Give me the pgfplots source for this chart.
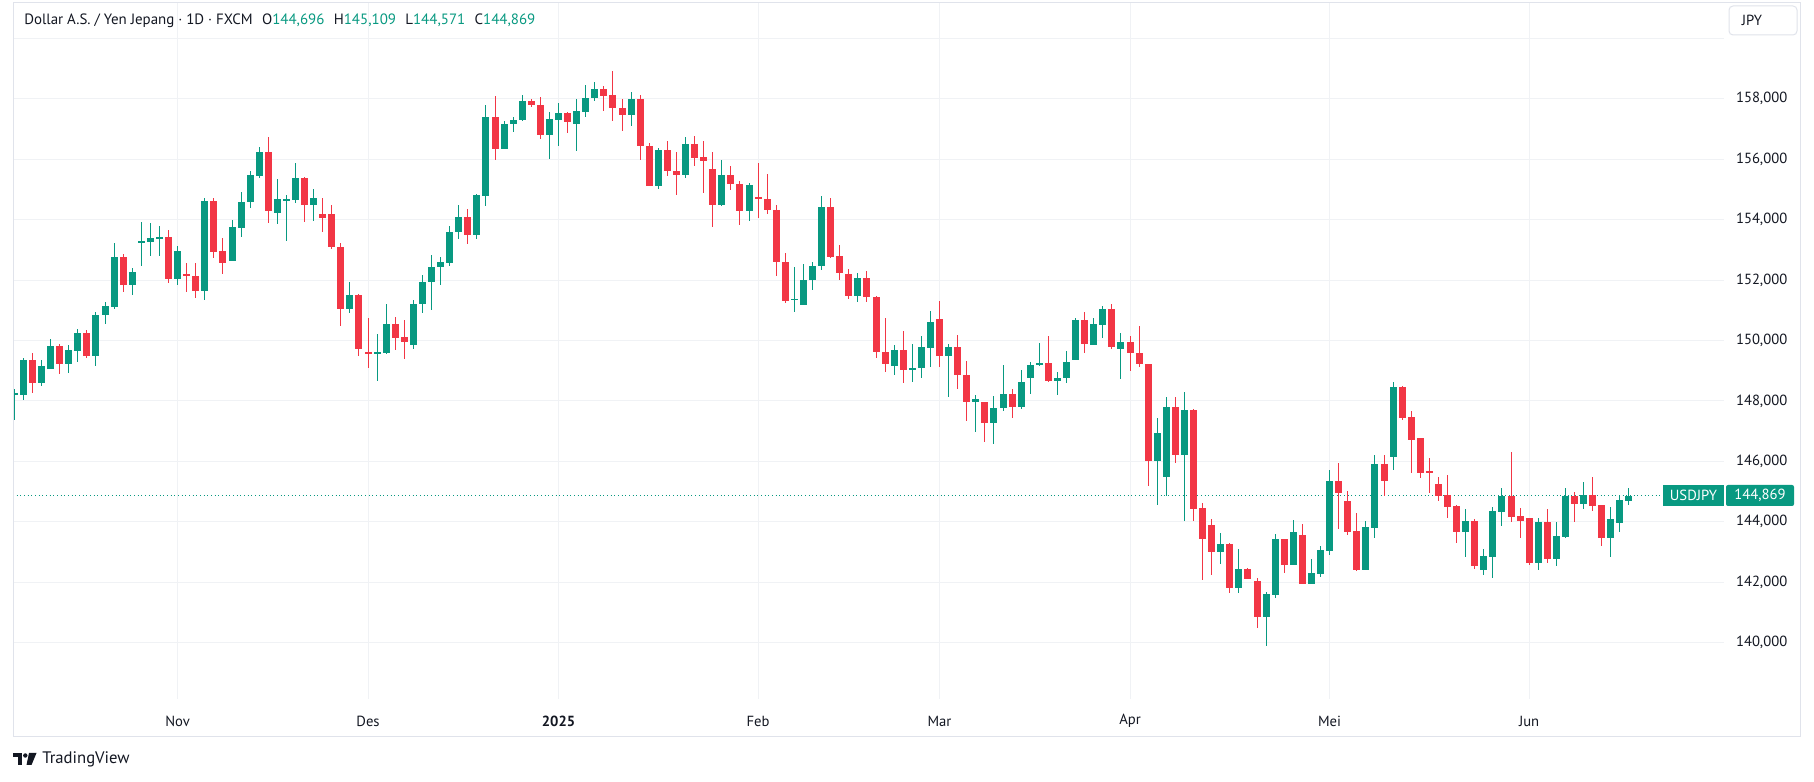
\documentclass[border=0pt]{standalone}
\usepackage{fontspec}
\setmainfont{PT Sans}
\usepackage{pgfplots}
\pgfplotsset{compat=1.18}
\usepackage{pgfplotstable}
\definecolor{tvgreen}{RGB}{8,153,129}
\definecolor{tvred}{RGB}{242,54,69}
\definecolor{textc}{RGB}{19,23,34}
\definecolor{gridc}{RGB}{240,242,245}
\definecolor{framec}{RGB}{224,227,235}

\pgfplotstableread{
i O H L C
1 148.21 148.38 147.36 148.25
2 148.19 149.42 148.04 149.36
4 148.61 149.36 148.48 149.16
5 149.07 150.04 149.05 149.81
7 149.22 149.85 148.93 149.68
8 149.66 150.37 149.30 150.24
10 149.49 150.94 149.17 150.86
11 150.84 151.26 150.55 151.13
12 151.10 153.22 151.03 152.77
14 151.83 152.40 151.50 152.27
15 153.24 153.91 152.45 153.29
16 153.27 153.88 152.81 153.39
17 153.37 153.80 152.81 153.43
19 152.05 153.13 151.83 152.96
22 151.63 154.71 151.33 154.63
25 152.64 153.98 152.64 153.75
26 153.73 154.93 153.43 154.60
27 154.58 155.62 154.38 155.49
28 155.46 156.40 155.37 156.24
30 154.23 155.36 153.86 154.67
31 154.65 154.80 153.30 154.67
32 154.65 155.88 154.55 155.39
34 154.50 155.02 153.97 154.72
38 151.03 151.95 150.90 151.52
41 149.58 150.23 148.65 149.60
42 149.58 151.22 149.55 150.56
45 149.84 151.35 149.71 151.22
46 151.20 152.18 150.90 151.95
47 151.93 152.84 151.00 152.44
48 152.42 152.77 151.83 152.61
49 152.57 153.80 152.45 153.60
50 153.58 154.49 153.35 154.09
52 153.48 154.85 153.35 154.82
53 154.80 157.80 154.44 157.40
55 156.35 157.27 156.35 157.17
56 157.15 157.40 156.91 157.30
57 157.30 158.11 157.28 157.93
60 156.81 157.56 156.02 157.33
61 157.30 157.86 156.45 157.53
63 157.16 157.98 156.27 157.58
64 157.56 158.44 157.39 158.04
65 158.02 158.57 157.92 158.34
69 157.46 158.21 157.09 157.98
72 155.10 156.38 155.00 156.29
75 155.47 156.72 155.37 156.52
79 154.48 155.99 154.44 155.49
82 154.28 155.23 153.94 155.16
87 151.35 152.44 150.93 151.37
88 151.19 152.54 151.19 152.01
89 151.99 152.61 151.66 152.48
90 152.45 154.80 152.35 154.43
94 151.46 152.24 151.26 152.08
98 149.15 149.86 148.85 149.70
100 149.02 149.90 148.62 149.10
101 149.08 150.16 148.75 149.80
102 149.76 150.99 149.11 150.62
104 149.48 149.90 148.12 149.80
107 147.96 148.21 146.97 148.05
109 147.26 148.15 146.57 147.78
110 147.76 149.20 147.66 148.24
112 147.79 149.04 147.73 148.64
113 148.75 149.30 148.22 149.20
114 149.18 149.93 149.15 149.27
116 148.65 148.97 148.19 148.77
117 148.75 149.67 148.59 149.30
118 149.35 150.76 149.35 150.69
120 149.86 150.76 149.84 150.56
121 150.52 151.15 150.07 151.05
123 149.71 150.26 148.72 149.96
127 146.01 147.45 144.56 146.93
128 145.50 148.14 144.86 147.81
130 146.20 148.28 144.03 147.71
134 143.00 143.62 142.60 143.26
136 141.81 143.09 141.64 142.43
139 140.85 141.67 139.89 141.61
140 141.58 143.59 141.48 143.42
142 142.57 144.05 142.57 143.65
144 141.94 142.76 141.94 142.30
145 142.27 143.19 142.17 143.06
146 143.03 145.73 142.90 145.34
150 142.40 144.02 142.40 143.82
151 143.79 146.20 143.46 145.90
153 146.13 148.64 145.70 148.47
161 143.67 144.42 142.85 144.03
163 142.42 143.11 142.25 142.87
164 142.85 144.49 142.15 144.36
165 144.34 145.12 143.87 144.85
169 142.65 144.13 142.42 143.99
171 142.78 143.99 142.55 143.53
172 143.51 145.12 143.48 144.85
174 144.60 145.32 144.42 144.89
177 143.48 144.49 142.82 144.09
178 143.97 144.89 143.67 144.72
179 144.696 145.109 144.571 144.869
}\greencandles

\pgfplotstableread{
i O H L C
3 149.36 149.60 148.26 148.61
6 149.81 149.88 148.90 149.22
9 150.24 150.34 149.43 149.49
13 152.77 152.86 151.60 151.83
18 153.42 153.65 151.89 152.05
20 152.21 152.57 151.60 152.12
21 152.14 152.57 151.40 151.63
23 154.63 154.73 152.74 152.94
24 152.96 153.39 152.19 152.58
29 156.24 156.73 153.89 154.30
33 155.38 155.40 153.91 154.50
35 154.19 154.72 153.58 154.07
36 154.19 154.49 153.02 153.08
37 153.10 153.24 150.47 151.03
39 151.52 151.55 149.48 149.71
40 149.60 150.76 149.08 149.58
43 150.56 150.79 149.68 150.07
44 150.10 150.69 149.38 149.94
51 154.09 154.36 153.18 153.48
54 157.40 158.08 155.96 156.35
58 157.93 157.98 157.74 157.78
59 157.78 158.07 156.68 156.81
62 157.53 157.56 156.88 157.24
66 158.34 158.41 157.59 158.09
67 158.11 158.91 157.25 157.69
68 157.71 157.98 156.93 157.46
70 157.98 158.11 155.97 156.43
71 156.45 156.55 155.10 155.10
73 156.29 156.59 155.44 155.60
74 155.62 156.25 154.81 155.47
76 156.52 156.78 155.77 156.03
77 156.06 156.59 154.87 155.93
78 155.69 156.25 153.75 154.48
80 155.49 155.79 154.97 155.17
81 155.19 155.27 153.81 154.28
83 154.76 155.89 154.04 154.67
84 154.70 155.52 154.18 154.31
85 154.33 154.48 152.12 152.59
86 152.61 152.91 151.25 151.31
91 154.43 154.70 152.72 152.78
92 152.81 153.17 152.02 152.25
93 152.21 152.38 151.36 151.46
95 152.08 152.31 151.26 151.43
96 151.45 151.47 149.41 149.61
97 149.62 150.74 148.95 149.21
99 149.70 150.33 148.59 149.02
103 150.72 151.32 149.11 149.48
105 149.80 150.19 148.39 148.85
106 148.87 149.33 147.33 147.96
108 147.95 147.95 146.64 147.26
111 148.24 148.38 147.43 147.79
115 149.27 150.16 148.62 148.65
119 150.69 150.95 149.58 149.87
122 151.05 151.22 149.71 149.80
124 149.96 150.16 148.98 149.58
125 149.60 150.49 149.11 149.21
126 149.23 149.24 145.18 146.01
129 147.81 148.14 145.96 146.20
131 147.71 147.72 144.03 144.41
132 144.45 144.61 142.07 143.42
133 143.89 144.08 142.24 143.00
135 143.26 143.29 141.64 141.81
137 142.43 142.47 142.10 142.10
138 142.04 142.14 140.49 140.85
141 143.42 143.43 142.30 142.57
143 143.56 143.92 141.94 141.94
147 145.34 145.93 143.75 144.94
148 144.68 145.01 143.56 143.65
149 143.69 144.28 142.37 142.40
152 145.90 146.20 144.86 145.34
154 148.47 148.48 147.38 147.45
155 147.48 147.68 145.60 146.72
156 146.76 146.77 145.44 145.63
157 145.67 146.10 144.94 145.65
158 145.24 145.47 144.68 144.85
159 144.88 145.54 144.12 144.48
160 144.52 144.56 143.31 143.67
162 144.03 144.09 142.45 142.55
166 144.85 146.31 144.00 144.17
167 144.19 144.46 143.48 144.04
168 144.13 144.14 142.58 142.65
170 143.99 144.42 142.65 142.78
173 144.85 144.99 144.00 144.60
175 144.89 145.48 144.37 144.53
176 144.56 144.57 143.21 143.48
}\redcandles

\begin{document}
\begin{tikzpicture}
\begin{scope}[x=0.75pt,y=0.75pt]
\path[use as bounding box, fill=white] (0,0) rectangle (1814,782);
\end{scope}
\begin{axis}[
  at={(9.75pt,62.25pt)}, anchor=south west,
  scale only axis, width=1283.25pt, height=522pt,
  xmin=0.857, xmax=189.48, ymin=138.136, ymax=161.17,
  axis line style={draw=none}, tick style={draw=none},
  xtick={19,40,61,83,103,124,146,168},
  xticklabels={Nov,Des,\textbf{2025},Feb,Mar,Apr,Mei,Jun},
  ytick={140,142,...,158},
  extra y ticks={160}, extra y tick labels={},
  extra y tick style={grid=major},
  yticklabel pos=right,
  xmajorgrids, ymajorgrids,
  grid style={gridc, line width=0.75pt},
  ticklabel style={font=\fontsize{11}{13}\selectfont, text=textc},
  xticklabel style={anchor=center, yshift=-16.5pt},
  yticklabel style={anchor=east, xshift=51pt},
  yticklabel={\pgfmathprintnumber[fixed,fixed zerofill,precision=3,use comma,assume math mode=true]{\tick}},
]
% dotted last-price line
\addplot[tvgreen, dotted, line width=0.75pt, forget plot] coordinates {(0.857,144.869) (182.7,144.869)};
% wicks
\addplot[draw=none, no marks, forget plot,
  error bars/.cd, y dir=both, y explicit, error mark=none,
  error bar style={draw=tvgreen, line width=0.75pt, solid}]
  table[x=i, y expr={(\thisrow{H}+\thisrow{L})/2}, y error expr={(\thisrow{H}-\thisrow{L})/2}] {\greencandles};
\addplot[draw=none, no marks, forget plot,
  error bars/.cd, y dir=both, y explicit, error mark=none,
  error bar style={draw=tvred, line width=0.75pt, solid}]
  table[x=i, y expr={(\thisrow{H}+\thisrow{L})/2}, y error expr={(\thisrow{H}-\thisrow{L})/2}] {\redcandles};
% bodies
\addplot[draw=none, no marks, forget plot,
  error bars/.cd, y dir=both, y explicit, error mark=none,
  error bar style={draw=tvgreen, line width=5.25pt, solid}]
  table[x=i, y expr={(\thisrow{O}+\thisrow{C})/2}, y error expr={max(abs(\thisrow{C}-\thisrow{O})/2,0.017)}] {\greencandles};
\addplot[draw=none, no marks, forget plot,
  error bars/.cd, y dir=both, y explicit, error mark=none,
  error bar style={draw=tvred, line width=5.25pt, solid}]
  table[x=i, y expr={(\thisrow{O}+\thisrow{C})/2}, y error expr={max(abs(\thisrow{C}-\thisrow{O})/2,0.017)}] {\redcandles};
\end{axis}
\begin{scope}[x=0.75pt,y=0.75pt]
% frame
\draw[framec, line width=0.75pt] (13,45) rectangle (1800,779);
% header
\node[anchor=west, inner sep=0pt, text=textc, font=\fontsize{11.2}{13}\selectfont] at (24,761)
 {Dollar A.S. / Yen Jepang · 1D · FXCM\hspace{7pt}O\textcolor{tvgreen}{144,696}\hspace{7pt}H\textcolor{tvgreen}{145,109}\hspace{7pt}L\textcolor{tvgreen}{144,571}\hspace{7pt}C\textcolor{tvgreen}{144,869}};
% currency box
\draw[framec, fill=white, rounded corners=3pt, line width=0.75pt] (1729,776) rectangle (1797,747);
\node[text=textc, font=\fontsize{11}{13}\selectfont] at (1752,761.5) {JPY};
% last price tags
\fill[tvgreen] (1663,276) rectangle (1724,297);
\node[text=white, font=\fontsize{11}{13}\selectfont] at (1693.5,286.5) {USDJPY};
\fill[tvgreen, rounded corners=1.5pt] (1726,276) rectangle (1794,297);
\node[text=white, font=\fontsize{11}{13}\selectfont] at (1760,286.5) {144,869};
% TradingView logo
\fill[textc] (13,29) rectangle (22,25);
\fill[textc] (18,29) rectangle (22,17);
\fill[textc] (25.3,26.5) circle (2.2);
\fill[textc] (29,29) -- (36.5,29) -- (31.5,17) -- (26.5,17) -- cycle;
\node[anchor=west, inner sep=0pt, text=textc, font=\fontsize{12.5}{14}\selectfont] at (42,23) {TradingView};
\end{scope}
\end{tikzpicture}
\end{document}
